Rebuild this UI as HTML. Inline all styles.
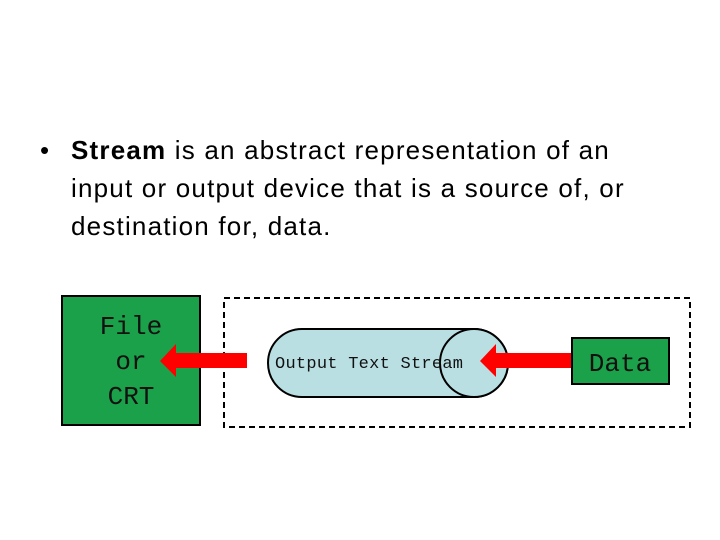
<!DOCTYPE html>
<html><head><style>
body{margin:0;width:720px;height:540px;background:#fff;overflow:hidden;position:relative;font-family:"Liberation Sans",sans-serif}
.t{position:absolute;left:71px;top:131px;font-size:26px;line-height:38px;color:#000;width:660px;letter-spacing:1.2px;white-space:nowrap}
.b{position:absolute;left:40px;top:131px;font-size:26px;line-height:38px}
</style></head><body>
<div class="b">•</div>
<div class="t"><b>Stream</b> is an abstract representation of an<br>input or output device that is a source of, or<br>destination for, data.</div>
<svg width="720" height="540" style="position:absolute;left:0;top:0">
<rect x="62" y="296" width="138" height="129" fill="#1aa14a" stroke="#000" stroke-width="2"/>
<g font-family="Liberation Mono, monospace" font-size="26" text-anchor="middle" fill="#111">
<text x="131" y="334">File</text><text x="131" y="369">or</text><text x="131" y="404">CRT</text>
</g>
<rect x="224" y="298" width="466" height="129" fill="none" stroke="#000" stroke-width="2" stroke-dasharray="6,4"/>
<path d="M302,329 H474 A34,34 0 0 1 474,397 H302 A34,34 0 0 1 302,329 Z" fill="#b9dfe3" stroke="#000" stroke-width="2"/>
<ellipse cx="474" cy="363" rx="34" ry="34" fill="#b9dfe3" stroke="#000" stroke-width="2"/>
<text x="275" y="368" font-family="Liberation Mono, monospace" font-size="17" fill="#111" textLength="188">Output Text Stream</text>
<polygon points="247,353 176,353 176,344 160,361 176,377 176,368 247,368" fill="#f00"/>
<polygon points="572,353 496,353 496,344 480,361 496,377 496,368 572,368" fill="#f00"/>
<rect x="572" y="338" width="97" height="46" fill="#1aa14a" stroke="#000" stroke-width="2"/>
<text x="620" y="371" font-family="Liberation Mono, monospace" font-size="26" text-anchor="middle" fill="#111">Data</text>
</svg>
</body></html>
